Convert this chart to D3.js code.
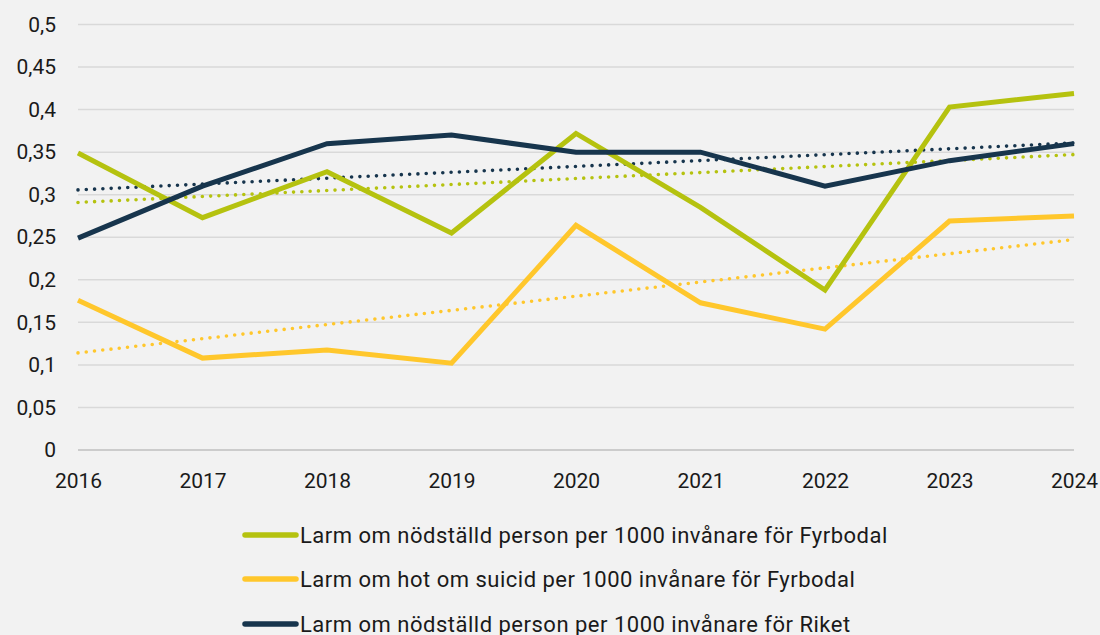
<!DOCTYPE html>
<html><head><meta charset="utf-8">
<script src="https://cdn.jsdelivr.net/npm/d3@7"></script>
<style>
html,body{margin:0;padding:0;background:#f2f2f2;}
svg{display:block;}
text{font-family:Roboto, "Noto Sans", sans-serif;fill:#1a1a1a;}
</style></head>
<body><svg id="chart" width="1100" height="635"></svg>
<script>
const years = [2016,2017,2018,2019,2020,2021,2022,2023,2024];
const nodFyrbodal = [0.349,0.273,0.327,0.255,0.372,0.285,0.188,0.403,0.419];
const suicidFyrbodal = [0.176,0.108,0.1175,0.102,0.264,0.173,0.142,0.269,0.275];
const nodRiket = [0.249,0.31,0.36,0.37,0.35,0.35,0.31,0.34,0.36];
const yTicks = [0,0.05,0.1,0.15,0.2,0.25,0.3,0.35,0.4,0.45,0.5];
const seriesNames = [
  "Larm om nödställd person per 1000 invånare för Fyrbodal",
  "Larm om hot om suicid per 1000 invånare för Fyrbodal",
  "Larm om nödställd person per 1000 invånare för Riket"
];
const colors = ["#b5c20f","#ffc72c","#17354d"];
const series = [nodFyrbodal, suicidFyrbodal, nodRiket];

const svg = d3.select("#chart");
const x = d3.scaleLinear().domain([2016,2024]).range([78,1074]);
const y = d3.scaleLinear().domain([0,0.5]).range([450,24.5]);
const fmt = v => String(+v.toFixed(2)).replace(".", ",");

// gridlines
svg.append("g").selectAll("line").data(yTicks).join("line")
  .attr("x1", x(2016)).attr("x2", x(2024))
  .attr("y1", d=>y(d)).attr("y2", d=>y(d))
  .attr("stroke", d=> d===0 ? "#bfbfbf" : "#d9d9d9").attr("stroke-width", 1.5);

// y axis labels
const yAxis = d3.axisLeft(y).tickValues(yTicks).tickFormat(fmt).tickSize(0).tickPadding(0);
const gy = svg.append("g").attr("transform","translate(56,0)").call(yAxis);
gy.select(".domain").remove();
gy.selectAll("text").attr("font-size",21).attr("font-family","Roboto, sans-serif").attr("fill","#1a1a1a");

// x axis labels
const xAxis = d3.axisBottom(x).tickValues(years).tickFormat(d3.format("d")).tickSize(0).tickPadding(0);
const gx = svg.append("g").attr("transform","translate(0,473)").call(xAxis);
gx.select(".domain").remove();
gx.selectAll("text").attr("font-size",21).attr("font-family","Roboto, sans-serif").attr("fill","#1a1a1a");

// trendlines (linear regression of each series)
function regress(vals){
  const n=vals.length, xs=years;
  const mx=d3.mean(xs), my=d3.mean(vals);
  let num=0, den=0;
  xs.forEach((xv,i)=>{num+=(xv-mx)*(vals[i]-my); den+=(xv-mx)*(xv-mx);});
  const b=num/den, a=my-b*mx;
  return [[xs[0], a+b*xs[0]],[xs[n-1], a+b*xs[n-1]]];
}
const line = d3.line().x(d=>x(d[0])).y(d=>y(d[1]));

series.forEach((s,i)=>{
  svg.append("path").datum(regress(s)).attr("d", line)
    .attr("fill","none").attr("stroke",colors[i]).attr("stroke-width",3.6)
    .attr("stroke-linecap","round").attr("stroke-dasharray","0 8.3");
});

// series lines
series.forEach((s,i)=>{
  svg.append("path").datum(years.map((yr,j)=>[yr,s[j]])).attr("d", line)
    .attr("fill","none").attr("stroke",colors[i]).attr("stroke-width",5)
    .attr("stroke-linejoin","miter");
});

// legend
const legY = [535,579,624];
const lg = svg.append("g").selectAll("g").data(seriesNames).join("g")
  .attr("transform",(d,i)=>`translate(0,${legY[i]})`);
lg.append("line").attr("x1",245).attr("x2",296).attr("y1",0).attr("y2",0)
  .attr("stroke",(d,i)=>colors[i]).attr("stroke-width",5.5).attr("stroke-linecap","round");
lg.append("text").attr("x",300).attr("y",0).attr("dy","0.35em")
  .attr("font-size",22).attr("letter-spacing",0.5).text(d=>d);
</script></body></html>
